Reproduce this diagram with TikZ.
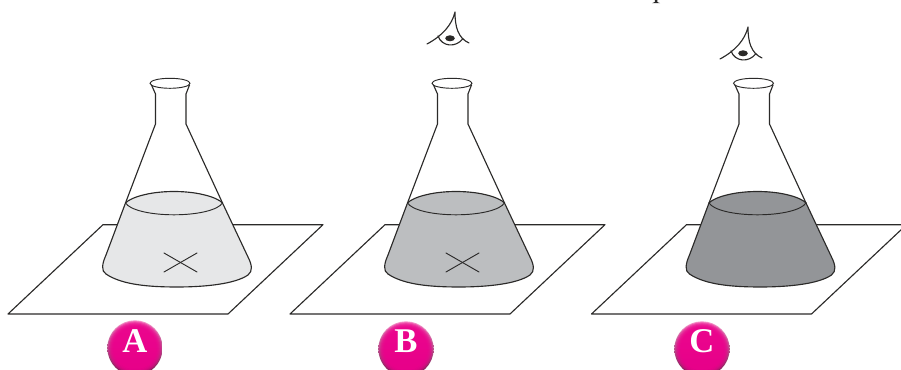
\documentclass[tikz,border=0pt]{standalone}
\usepackage{fontspec}
\setmainfont{Liberation Serif}
\definecolor{liqA}{HTML}{E6E7E8}
\definecolor{liqB}{HTML}{BCBEC0}
\definecolor{liqC}{HTML}{939598}
\definecolor{badge}{HTML}{EC008C}
\definecolor{badgeDark}{HTML}{7A0F4C}
\definecolor{badgeLight}{HTML}{F590C8}
\definecolor{inkline}{HTML}{2B2A29}
\tikzset{
 ink/.style={draw=inkline,line width=0.85pt,line join=round,line cap=round},
 thin ink/.style={draw=inkline,line width=0.7pt,line cap=round},
 badgenode/.style={circle,minimum size=41.5pt,inner sep=0pt,text=white,
   font=\bfseries\fontsize{26}{26}\selectfont,
   path picture={
     \shade[top color=badgeLight,middle color=badge,bottom color=badgeDark]
       (path picture bounding box.south west) rectangle (path picture bounding box.north east);
     \foreach \rr in {20,19.2,18.4,17.6,16.8,16}{
       \fill[badge,fill opacity=0.4] (path picture bounding box.center) circle (\rr pt);}
   }}
}
\newcommand{\flaskat}[3]{%
 \begin{scope}[shift={(#1,0)}]
  \draw[ink] (103,224.7) -- (323,224.7) -- (228,314) -- (8,314) -- cycle;
  \fill[white] (155.5,124) -- (155.5,95) -- (151,85) -- (189,85) -- (186,95) -- (186,124) -- (226,212) -- (121,212) -- cycle;
  \path[ink,fill=#2] (125.5,203) -- (106,255) .. controls (102,264) and (101,271) .. (106,274)
     .. controls (122,285) and (150,287) .. (177,287)
     .. controls (205,287) and (235,284) .. (248,275)
     .. controls (253,271) and (252,265) .. (248,257) -- (222.5,203)
     .. controls (218,198) and (200,191.5) .. (174,191.5)
     .. controls (148,191.5) and (130,198) .. (125.5,203) -- cycle;
  \draw[thin ink] (125.5,203) .. controls (130,210) and (150,214.8) .. (174,214.8)
     .. controls (198,214.8) and (218,210) .. (222.5,203);
  \draw[ink] (125.5,203) -- (155.5,124) -- (155.5,94) -- (151.5,85);
  \draw[ink] (222.5,203) -- (186,124) -- (186,94) -- (189.5,85);
  \draw[thin ink] (170,83.3) ellipse (20 and 5);
  \ifx#3Y
   \draw[thin ink] (164,253) -- (197,272);
   \draw[thin ink] (164,272) -- (197,253);
  \fi
 \end{scope}}
\newcommand{\eyeat}[2]{%
 \begin{scope}[shift={(#1,#2)}]
  \draw[ink] (427,44) .. controls (442,36) and (452,25) .. (455,12)
     .. controls (455,27) and (458,38) .. (469,43);
  \draw[ink] (438,36) .. controls (442,47) and (456,48) .. (463,38.5);
  \fill[inkline] (450,38.3) ellipse (4.8 and 3);
 \end{scope}}
\newcommand{\badgeletter}[2]{\raisebox{#1}[0pt][0pt]{#2}}
\begin{document}
\begin{tikzpicture}[x=0.75pt,y=-0.75pt]
 \useasboundingbox (0,0) rectangle (901,370);
 \clip (0,0) rectangle (901,370);
 \flaskat{0}{liqA}{Y}
 \flaskat{282}{liqB}{Y}
 \flaskat{583.5}{liqC}{N}
 \eyeat{0}{0}
 \eyeat{293}{15}
 \fill[inkline] (654.8,-1) -- (657.4,-1) -- (657.4,2) -- (660,3.2) -- (652,3.2) -- (654.8,2) -- cycle;
 \node[badgenode] (a) at (135,348) {\badgeletter{-3.5pt}{A}};
 \node[badgenode] (b) at (406,349) {\badgeletter{-3pt}{B}};
 \node[badgenode] (c) at (702,349) {\badgeletter{-3pt}{C}};
\end{tikzpicture}
\end{document}
